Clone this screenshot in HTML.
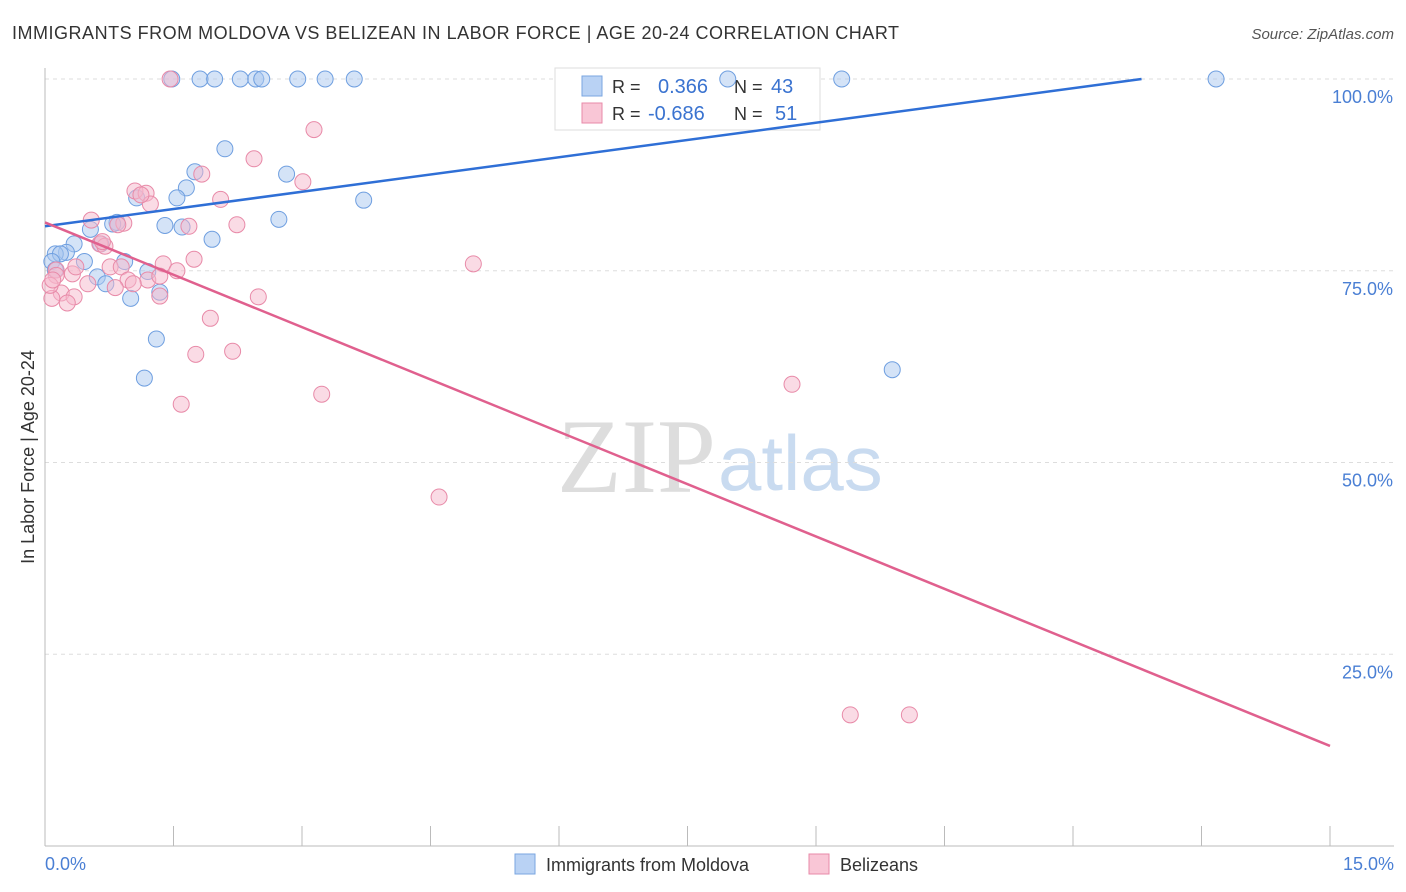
<!DOCTYPE html>
<html><head><meta charset="utf-8"><style>
body{margin:0;background:#fff;font-family:"Liberation Sans",sans-serif;}
svg{display:block}
</style></head><body>
<svg id="chart" width="1406" height="892" xmlns="http://www.w3.org/2000/svg">
<text x="12" y="39" font-size="18" fill="#333" textLength="887">IMMIGRANTS FROM MOLDOVA VS BELIZEAN IN LABOR FORCE | AGE 20-24 CORRELATION CHART</text>
<text x="1394" y="39" font-size="15" fill="#555" font-style="italic" text-anchor="end">Source: ZipAtlas.com</text>
<text x="716" y="492" font-size="106" font-family="Liberation Serif,serif" fill="#ddd" text-anchor="end">ZIP</text>
<text x="718" y="490" font-size="78" fill="#c9dbf0">atlas</text>
<g id="grid"></g>
<g id="axes"></g>
<g>
<rect x="555" y="68" width="265" height="62" fill="#fff" stroke="#ddd"/>
<rect x="582" y="76" width="20" height="20" fill="#b9d2f4" stroke="#7aa6e0"/>
<rect x="582" y="103" width="20" height="20" fill="#f9c6d6" stroke="#e88aa8"/>
<text x="612" y="93" font-size="18" fill="#333">R = </text><text x="658" y="93" font-size="20" fill="#3a73d0">0.366</text>
<text x="734" y="93" font-size="18" fill="#333">N = </text><text x="771" y="93" font-size="20" fill="#3a73d0">43</text>
<text x="612" y="120" font-size="18" fill="#333">R = </text><text x="648" y="120" font-size="20" fill="#3a73d0">-0.686</text>
<text x="734" y="120" font-size="18" fill="#333">N = </text><text x="775" y="120" font-size="20" fill="#3a73d0">51</text>
</g>
<g id="pts"></g>
<g id="trends"></g>
<text transform="translate(34,457) rotate(-90)" font-size="18" fill="#333" text-anchor="middle">In Labor Force | Age 20-24</text>
<text x="45" y="870" font-size="18" fill="#4a7fd4">0.0%</text>
<text x="1394" y="870" font-size="18" fill="#4a7fd4" text-anchor="end">15.0%</text>
<g>
<rect x="515" y="854" width="20" height="20" fill="#b9d2f4" stroke="#7aa6e0"/>
<text x="546" y="871" font-size="18" fill="#333">Immigrants from Moldova</text>
<rect x="809" y="854" width="20" height="20" fill="#f9c6d6" stroke="#e88aa8"/>
<text x="840" y="871" font-size="18" fill="#333">Belizeans</text>
</g>
</svg>
<script>
const blueX=[1.48,1.81,1.98,2.28,2.46,2.53,2.95,3.27,3.61,7.97,9.30,13.67,2.10,1.75,2.82,1.65,1.54,1.07,3.72,2.73,0.84,0.79,1.40,1.60,1.95,0.53,0.34,0.65,0.25,0.12,0.18,0.08,0.46,0.93,1.20,0.61,0.71,1.34,1.00,1.30,1.16,9.89,0.12];
const blueY=[100,100,100,100,100,100,100,100,100,100,100,100,90.9,87.9,87.6,85.8,84.5,84.5,84.2,81.7,81.3,81.1,80.9,80.7,79.1,80.4,78.5,78.5,77.4,77.2,77.2,76.2,76.2,76.2,74.9,74.2,73.3,72.2,71.4,66.1,61.0,62.1,75.1];
const pinkX=[1.46,3.14,2.44,1.83,3.01,1.05,1.18,2.05,1.23,0.54,0.92,2.24,1.68,0.64,0.70,1.74,1.38,0.76,0.89,0.13,5.00,1.54,0.32,1.20,1.34,0.97,0.50,0.82,1.03,0.19,0.34,2.49,0.08,0.26,1.93,1.76,2.19,1.59,3.23,8.72,4.60,9.40,10.09,0.13,0.06,0.09,0.67,1.12,0.36,0.85,1.34];
const pinkY=[100,93.4,89.6,87.6,86.6,85.4,85.1,84.3,83.7,81.6,81.2,81.0,80.8,78.5,78.2,76.5,75.9,75.5,75.5,75.1,75.9,75.0,74.6,73.8,74.3,73.8,73.3,72.8,73.3,72.1,71.6,71.6,71.4,70.8,68.8,64.1,64.5,57.6,58.9,60.2,45.5,17.1,17.1,74.4,73.1,73.8,78.8,84.9,75.5,81.0,71.7];
const trendIntercept=[80.8,81.3];
const trendSlope=[1.5,-4.55];
const yTicks=[25,50,75,100];
const yTickLabels=["25.0%","50.0%","75.0%","100.0%"];
const xTicks=[0,1.5,3,4.5,6,7.5,9,10.5,12,13.5,15];
const NS="http://www.w3.org/2000/svg";
const X=v=>45+v/15*1285, Y=v=>846-v/100*767;
function mk(tag,attrs,parent){const e=document.createElementNS(NS,tag);for(const k in attrs)e.setAttribute(k,attrs[k]);document.getElementById(parent).appendChild(e);return e;}
yTicks.forEach((t,i)=>{
 const l=mk('line',{x1:45,x2:1394,y1:Y(t),y2:Y(t),stroke:'#ddd','stroke-dasharray':'4,4'},'grid');
 
 
 const tx=mk('text',{x:1393,y:Y(t)+24,'font-size':18,fill:'#4a7fd4','text-anchor':'end'},'grid');
 tx.textContent=yTickLabels[i];
 
 
});
const ax=mk('line',{x1:45,x2:45,y1:68,y2:846,stroke:'#bbb'},'axes');


const bx=mk('line',{x1:45,x2:1394,y1:846,y2:846,stroke:'#bbb'},'axes');


xTicks.forEach(t=>{
 const l=mk('line',{x1:X(t),x2:X(t),y1:826,y2:846,stroke:'#bbb'},'axes');
 
 
});
function pts(xs,ys,fill,stroke,name){xs.forEach((v,i)=>{
 const c=mk('circle',{cx:X(v),cy:Y(ys[i]),r:8,fill:fill,'fill-opacity':0.5,stroke:stroke,'stroke-width':1},'pts');
 
 
});}
pts(blueX,blueY,'#a9c8f0','#6f9fe0','point-moldova');
pts(pinkX,pinkY,'#f5b8cc','#e88aa8','point-belizeans');
const cols=['#2f6fd6','#e0608e'];
[0,1].forEach(k=>{
 let x2=15,y2=trendIntercept[k]+trendSlope[k]*15;
 if(y2>100){x2=(100-trendIntercept[k])/trendSlope[k];y2=100;}
 const l=mk('line',{x1:X(0),y1:Y(trendIntercept[k]),x2:X(x2),y2:Y(y2),stroke:cols[k],'stroke-width':2.5},'trends');
 
 
});
</script>
</body></html>
